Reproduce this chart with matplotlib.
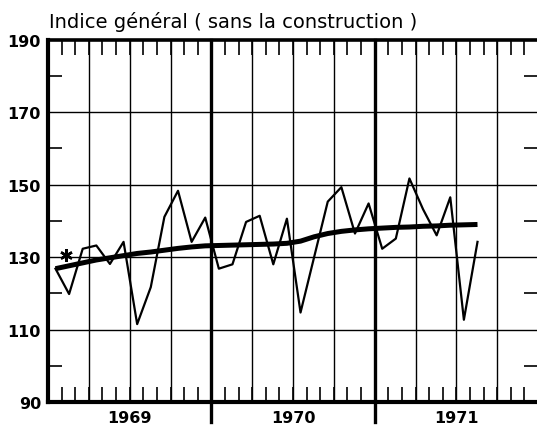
import numpy as np
import matplotlib
matplotlib.use("Agg")
import matplotlib.pyplot as plt
from matplotlib.ticker import MultipleLocator, FixedLocator

# ==========================================
# DATA (monthly, Jan 1969 -> Aug 1971)
# ==========================================
annees = ['1969', '1970', '1971']
graduations = [90, 110, 130, 150, 170, 190]

indice = [126.8, 119.8, 132.3, 133.2, 128.1, 134.2, 111.5, 121.7, 141.1, 148.3, 134.2, 140.9,
          126.8, 128.0, 139.7, 141.4, 128.0, 140.6, 114.7, 130.0, 145.3, 149.3, 136.5, 144.8,
          132.3, 135.1, 151.7, 143.2, 136.0, 146.5, 112.7, 134.2]

tendance = [126.8, 127.6, 128.4, 129.2, 129.8, 130.4, 131.0, 131.4, 131.9, 132.4, 132.8, 133.1,
            133.2, 133.3, 133.4, 133.5, 133.6, 133.8, 134.4, 135.6, 136.5, 137.1, 137.5, 137.8,
            138.0, 138.2, 138.3, 138.5, 138.6, 138.8, 138.9, 139.0]

# the lone asterisk near the start (month position, value)
etoile_mois = 1.3
etoile_val = 130.5

# ==========================================
# PLOT
# ==========================================
fig = plt.figure(figsize=(5.37, 4.27), dpi=100)
ax = fig.add_axes([48 / 537, 1 - 403 / 427, 1.002 - 48 / 537, (403 - 40.7) / 427])

n_mois = 12 * len(annees)
x = np.arange(len(indice)) + 0.55

ax.set_xlim(0, n_mois)
ax.set_ylim(graduations[0], graduations[-1])

# grid: quarters thin, years thick and running below the axis
for q in range(3, n_mois, 3):
    if q % 12 == 0:
        ax.plot([q, q], [-0.055, 1], color='black', linewidth=2.4,
                transform=ax.get_xaxis_transform(), clip_on=False, zorder=3)
    else:
        ax.axvline(q, color='black', linewidth=1.0, zorder=1)

for v in graduations[1:-1]:
    ax.axhline(v, color='black', linewidth=1.0, zorder=1)

ax.plot(x, indice, color='black', linewidth=1.6, zorder=4)
ax.plot(x, tendance, color='black', linewidth=3.6, solid_capstyle='butt', zorder=5)
ax.plot([etoile_mois], [etoile_val], linestyle='none', marker=(6, 2, 0),
        markersize=9, markeredgewidth=1.8, color='black', zorder=6)

# ticks
ax.xaxis.remove_overlapping_locs = False
ax.xaxis.set_major_locator(MultipleLocator(1))
ax.xaxis.set_major_formatter(plt.NullFormatter())
ax.xaxis.set_minor_locator(FixedLocator([12 * i + 6 for i in range(len(annees))]))
ax.set_xticklabels(annees, minor=True)
ax.tick_params(axis='x', which='major', direction='in', length=11, width=1.2,
               top=True, bottom=True)
ax.tick_params(axis='x', which='minor', length=0, pad=5.5)

ax.yaxis.set_major_locator(FixedLocator(graduations))
ax.yaxis.set_minor_locator(FixedLocator([g + 10 for g in graduations[:-1]]))
ax.tick_params(axis='y', which='major', length=0, pad=5)
ax.tick_params(axis='y', which='minor', direction='in', length=10, width=1.2,
               left=True, right=True)

for lab in ax.get_xticklabels(minor=True) + ax.get_yticklabels():
    lab.set_fontweight('bold')
    lab.set_fontsize(11.5)

for side in ['left', 'bottom']:
    ax.spines[side].set_linewidth(3)
ax.spines['top'].set_linewidth(2.6)
ax.spines['right'].set_visible(False)

fig.text(49 / 537, 1 - 28 / 427, "Indice général ( sans la construction )",
         fontsize=14, va='baseline', ha='left')

plt.savefig("out.png", dpi=100)
